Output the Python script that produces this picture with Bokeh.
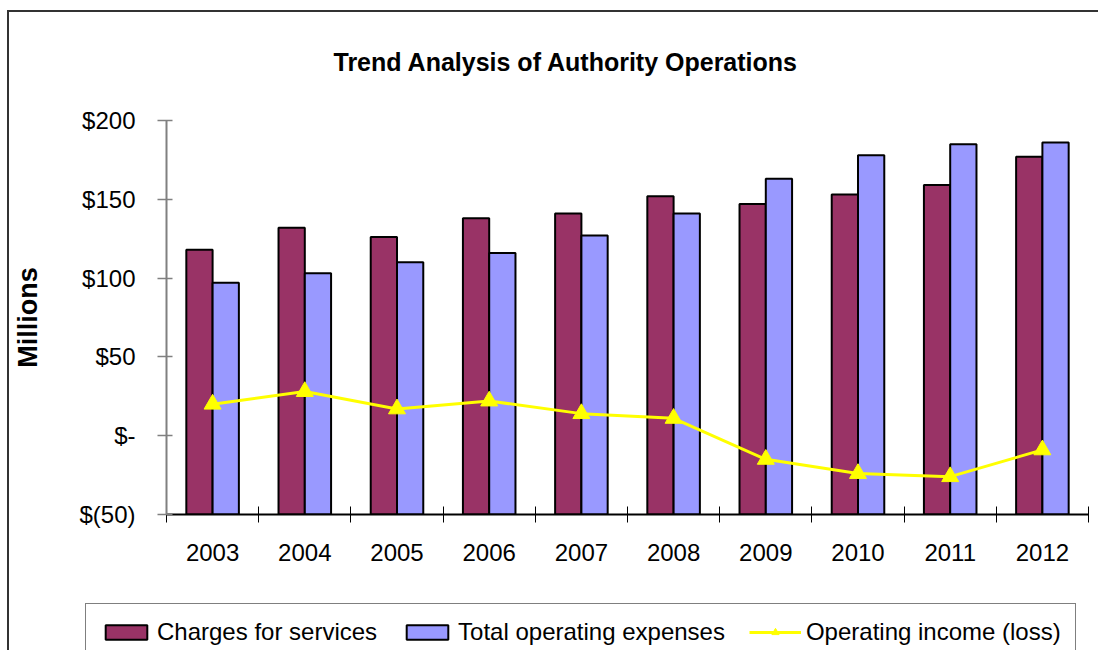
from bokeh.plotting import figure
from bokeh.models import (Range1d, FixedTicker, LinearAxis, Legend, LegendItem, ColumnDataSource)
from bokeh.transform import dodge
from bokeh.embed import file_html
from bokeh.resources import INLINE

# ---- data ----
years = ["2003", "2004", "2005", "2006", "2007", "2008", "2009", "2010", "2011", "2012"]
charges = [118, 132, 126, 138, 141, 152, 147, 153, 159, 177]
expenses = [97, 103, 110, 116, 127, 141, 163, 178, 185, 186]
income = [20, 28, 17, 22, 14, 11, -15, -24, -26, -9]
y_ticks = [-50, 0, 50, 100, 150, 200]
y_tick_labels = ["$(50)", "$-", "$50", "$100", "$150", "$200"]
series_names = ["Charges for services", "Total operating expenses", "Operating income (loss)"]
title_text = "Trend Analysis of Authority Operations"
y_title = "Millions"

FONT = "Liberation Sans"
y_min, y_max = y_ticks[0], y_ticks[-1]
n = len(years)
centers = [i + 0.5 for i in range(n)]
bounds = list(range(n + 1))

bar1_style = dict(fill_color="#993366", line_color="black", line_width=2)
bar2_style = dict(fill_color="#9999FF", line_color="black", line_width=2)
line_style = dict(line_color="#FFFF00", line_width=3)
mark_style = dict(marker="triangle", size=17, fill_color="#FFFF00", line_color="#FFFF00")

src = ColumnDataSource(dict(xc=centers, charges=charges, expenses=expenses, income=income,
                            base=[y_min] * n))

p = figure(frame_width=922, frame_height=394, x_range=Range1d(0, n),
           y_range=Range1d(y_min, y_max), output_backend="svg", toolbar_location=None,
           x_axis_location=None, min_border_left=166, min_border_right=10,
           min_border_top=119, min_border_bottom=61)
p.styles = {"background": "linear-gradient(#333,#333) 7px 10px / 2px 100% no-repeat, "
                          "linear-gradient(#333,#333) 7px 10px / 100% 2px no-repeat, white"}

p.title.text = title_text
p.title.text_font = FONT
p.title.text_font_size = "25px"
p.title.text_font_style = "bold"
p.title.text_color = "black"
p.title.align = "left"
p.title.offset = 167
p.title.standoff = 90

p.outline_line_color = None
p.xgrid.grid_line_color = None
p.ygrid.grid_line_color = None
p.background_fill_color = "white"
p.border_fill_alpha = 0

# y axis
ya = p.yaxis[0]
ya.ticker = FixedTicker(ticks=y_ticks)
ya.major_label_overrides = {t: l for t, l in zip(y_ticks, y_tick_labels)}
ya.major_label_text_font = FONT
ya.major_label_text_font_size = "24px"
ya.major_label_text_color = "black"
ya.major_label_standoff = 22
ya.axis_line_color = "#808080"
ya.axis_line_width = 2
ya.major_tick_line_color = "#808080"
ya.major_tick_line_width = 1.5
ya.major_tick_in = 6
ya.major_tick_out = 9
ya.minor_tick_line_color = None
ya.axis_label = y_title
ya.axis_label_text_font = FONT
ya.axis_label_text_font_size = "27px"
ya.axis_label_text_font_style = "bold"
ya.axis_label_text_color = "black"
ya.axis_label_standoff = 33

# x axis: year labels at category centres, tick marks at category boundaries
xa = LinearAxis(ticker=FixedTicker(ticks=centers, minor_ticks=bounds),
                major_label_overrides={c: y for c, y in zip(centers, years)},
                axis_line_color="black", axis_line_width=2,
                major_tick_line_color=None, major_tick_in=0, major_tick_out=8,
                minor_tick_line_color="black", minor_tick_line_width=1,
                minor_tick_in=8, minor_tick_out=8,
                major_label_text_font=FONT, major_label_text_font_size="24px",
                major_label_text_color="black", major_label_standoff=21)
p.add_layout(xa, "below")

bw = 0.285
p.vbar(x=dodge("xc", -bw / 2), bottom="base", top="charges", width=bw, source=src, **bar1_style)
p.vbar(x=dodge("xc", bw / 2), bottom="base", top="expenses", width=bw, source=src, **bar2_style)
p.line(x="xc", y="income", source=src, **line_style)
p.scatter(x="xc", y="income", source=src, **mark_style)

# ---- legend strip below the chart (separate root, so no frame alignment) ----
lg = figure(width=1098, height=76, output_backend="svg", toolbar_location=None,
            x_axis_location=None, y_axis_location=None, min_border=0,
            x_range=Range1d(0, 1), y_range=Range1d(0, 1))
lg.styles = {"background": "linear-gradient(#333,#333) 7px 0px / 2px 100% no-repeat, white"}
lg.outline_line_color = None
lg.background_fill_alpha = 0
lg.border_fill_alpha = 0
lg.xgrid.grid_line_color = None
lg.ygrid.grid_line_color = None

nan = float("nan")
hidden = ColumnDataSource(dict(x=[nan], y=[nan]))
l1 = lg.vbar(x="x", top="y", width=0.1, source=hidden, **bar1_style)
l2 = lg.vbar(x="x", top="y", width=0.1, source=hidden, **bar2_style)
l3 = lg.line(x="x", y="y", source=hidden, **line_style)
l4 = lg.scatter(x="x", y="y", source=hidden, **mark_style)

legend = Legend(items=[LegendItem(label=series_names[0], renderers=[l1], index=0),
                       LegendItem(label=series_names[1], renderers=[l2], index=0),
                       LegendItem(label=series_names[2], renderers=[l3, l4], index=0)],
                orientation="horizontal", location=(85, -10),
                label_text_font=FONT, label_text_font_size="24px", label_text_color="black",
                glyph_width=52, glyph_height=18, spacing=24, padding=14, margin=0,
                label_standoff=5, border_line_color="black", border_line_width=1.5,
                background_fill_color="white", background_fill_alpha=1)
lg.add_layout(legend)

open("out.html", "w").write(file_html([p, lg], INLINE))
